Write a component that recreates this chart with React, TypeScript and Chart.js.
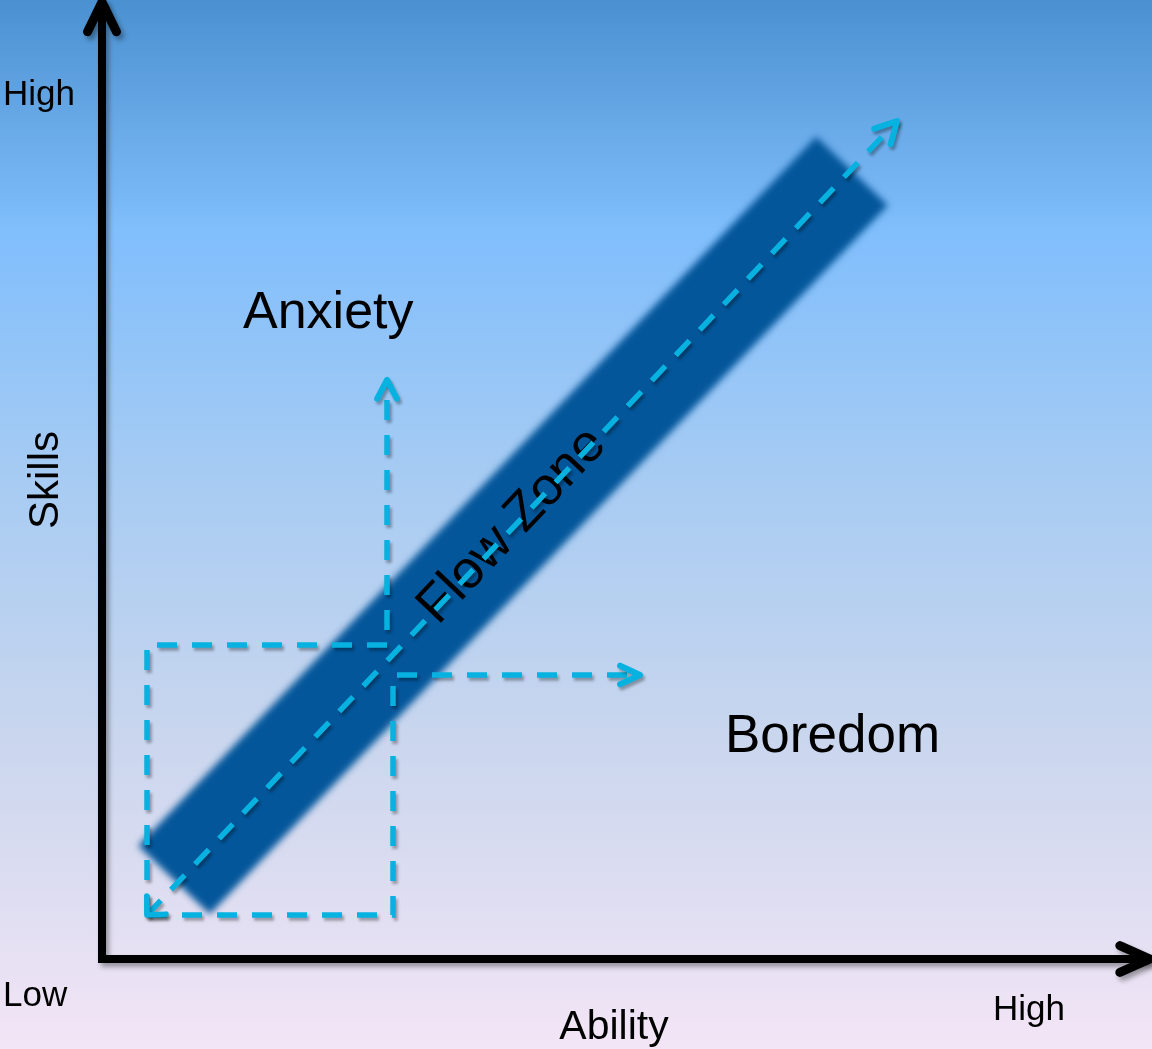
import React, { useEffect, useRef } from "react";
import { Chart, registerables } from "chart.js";

Chart.register(...registerables);

// ---- Diagram data (units: Ability on x, Skills on y, 0 = axis origin) ----
const flowBandX = [7.2, 75.0];
const flowBandY = [7.9, 78.8];
const diagonalX = [4.5, 79.5];
const diagonalY = [4.4, 83.8];
const anxietyPathX = [4.5, 4.5, 28.5, 28.5];
const anxietyPathY = [4.4, 31.4, 31.4, 57.9];
const boredomPathX = [4.5, 29.1, 29.1, 53.8];
const boredomPathY = [4.4, 4.4, 28.4, 28.4];
const axisLineX = [0, 0, 104.8];
const axisLineY = [95.7, 0, 0];

const labelTexts = ["High", "Low", "High", "Ability", "Skills", "Anxiety", "Boredom", "Flow Zone"];

// ---- Layout / styles (not data) ----
const labelLayout = [
  { x: -9.9, y: 85.4, size: 35, align: "left", rot: 0, base: "alphabetic" },
  { x: -9.9, y: -4.7, size: 35, align: "left", rot: 0, base: "alphabetic" },
  { x: 89.1, y: -6.1, size: 35, align: "left", rot: 0, base: "alphabetic" },
  { x: 51.2, y: -8.0, size: 41, align: "center", rot: 0, base: "alphabetic" },
  { x: -4.4, y: 47.9, size: 42, align: "center", rot: -90, base: "alphabetic" },
  { x: 14.1, y: 63.1, size: 52, align: "left", rot: 0, base: "alphabetic" },
  { x: 62.3, y: 20.7, size: 53, align: "left", rot: 0, base: "alphabetic" },
  { x: 42.1, y: 42.3, size: 53, align: "center", rot: -46.6, base: "alphabetic" },
];

const FONT = '"Liberation Sans", Arial, Helvetica, sans-serif';
const DASH_COLOR = "#08B2E0";
const BAND_COLOR = "#03569A";

function pts(xs: number[], ys: number[]) {
  return xs.map((x, i) => ({ x, y: ys[i] }));
}

// chevron arrowhead at the end of a path (isotropic units: 10px per unit on both axes)
function chevron(xs: number[], ys: number[], atEnd: boolean, len: number, angleDeg: number) {
  const n = xs.length;
  const tx = atEnd ? xs[n - 1] : xs[0];
  const ty = atEnd ? ys[n - 1] : ys[0];
  const px = atEnd ? xs[n - 2] : xs[1];
  const py = atEnd ? ys[n - 2] : ys[1];
  const dx = px - tx;
  const dy = py - ty;
  const d = Math.hypot(dx, dy);
  const ux = dx / d;
  const uy = dy / d;
  const a = (angleDeg * Math.PI) / 180;
  const rot = (s: number) => ({
    x: tx + len * (ux * Math.cos(s * a) - uy * Math.sin(s * a)),
    y: ty + len * (ux * Math.sin(s * a) + uy * Math.cos(s * a)),
  });
  return [rot(1), { x: tx, y: ty }, rot(-1)];
}

const fxPlugin = {
  id: "fx",
  beforeDraw(chart: any) {
    const { ctx, width, height } = chart;
    const g = ctx.createLinearGradient(0, 0, 0, height);
    g.addColorStop(0, "#4A91D1");
    g.addColorStop(0.06, "#5A9DDC");
    g.addColorStop(0.22, "#80BEFC");
    g.addColorStop(0.45, "#A6CBF3");
    g.addColorStop(0.7, "#C9D6EE");
    g.addColorStop(0.88, "#E2DFF2");
    g.addColorStop(1, "#F3E5F6");
    ctx.save();
    ctx.fillStyle = g;
    ctx.fillRect(0, 0, width, height);
    ctx.restore();
  },
  beforeDatasetDraw(chart: any, args: any) {
    const ds = chart.data.datasets[args.index];
    const ctx = chart.ctx;
    ctx.save();
    if (ds.fxBlur) ctx.filter = `blur(${ds.fxBlur}px)`;
    if (ds.fxShadow) {
      ctx.shadowColor = ds.fxShadow.color;
      ctx.shadowBlur = ds.fxShadow.blur;
      ctx.shadowOffsetX = ds.fxShadow.dx;
      ctx.shadowOffsetY = ds.fxShadow.dy;
    }
  },
  afterDatasetDraw(chart: any, args: any) {
    const ctx = chart.ctx;
    ctx.restore();
    const ds = chart.data.datasets[args.index];
    if (!ds.drawLabelsAfter) return;
    const xs = chart.scales.x;
    const ys = chart.scales.y;
    labelTexts.forEach((t, i) => {
      const L = labelLayout[i];
      ctx.save();
      ctx.translate(xs.getPixelForValue(L.x), ys.getPixelForValue(L.y));
      ctx.rotate((L.rot * Math.PI) / 180);
      ctx.font = `${L.size}px ${FONT}`;
      ctx.fillStyle = "#000000";
      ctx.textAlign = L.align;
      ctx.textBaseline = L.base;
      ctx.fillText(t, 0, 0);
      ctx.restore();
    });
  },
};

export default function App() {
  const ref = useRef<HTMLCanvasElement | null>(null);

  useEffect(() => {
    if (!ref.current) return;
    const dashShadow = { color: "rgba(0,0,0,0.32)", blur: 3, dx: 2, dy: 3 };
    const axisShadow = { color: "rgba(0,0,0,0.35)", blur: 5, dx: 3, dy: 4 };
    const line = (data: any[], extra: any) => ({
      data,
      showLine: true,
      pointRadius: 0,
      pointHoverRadius: 0,
      fill: false,
      tension: 0,
      clip: false,
      ...extra,
    });
    const dashed = (data: any[]) =>
      line(data, {
        borderColor: DASH_COLOR,
        borderWidth: 5.5,
        borderDash: [20, 15],
        borderCapStyle: "butt",
        borderJoinStyle: "miter",
        fxShadow: dashShadow,
      });
    const head = (data: any[], color: string, w: number, shadow: any) =>
      line(data, {
        borderColor: color,
        borderWidth: w,
        borderCapStyle: "round",
        borderJoinStyle: "round",
        fxShadow: shadow,
      });

    const datasets: any[] = [
      // top-most first
      head(chevron(axisLineX, axisLineY, false, 3.3, 26), "#000", 9, axisShadow),
      head(chevron(axisLineX, axisLineY, true, 3.3, 24), "#000", 9, axisShadow),
      line(pts(axisLineX, axisLineY), {
        borderColor: "#000",
        borderWidth: 8,
        borderCapStyle: "butt",
        borderJoinStyle: "miter",
        fxShadow: axisShadow,
      }),
      head(chevron(diagonalX, diagonalY, true, 2.4, 28), DASH_COLOR, 6, dashShadow),
      head(chevron(diagonalX, diagonalY, false, 1.9, 44), DASH_COLOR, 5.5, dashShadow),
      head(chevron(anxietyPathX, anxietyPathY, true, 2.1, 28), DASH_COLOR, 6, dashShadow),
      head(chevron(boredomPathX, boredomPathY, true, 2.2, 25), DASH_COLOR, 6, dashShadow),
      dashed(pts(diagonalX, diagonalY)),
      dashed(pts(anxietyPathX, anxietyPathY)),
      dashed(pts(boredomPathX, boredomPathY)),
      line(pts(flowBandX, flowBandY), {
        borderColor: BAND_COLOR,
        borderWidth: 99,
        borderCapStyle: "butt",
        fxBlur: 3.5,
        drawLabelsAfter: true,
      }),
    ];

    const chart = new Chart(ref.current, {
      type: "scatter",
      data: { datasets },
      options: {
        animation: false,
        responsive: true,
        maintainAspectRatio: false,
        events: [],
        layout: { padding: 0 },
        plugins: { legend: { display: false }, tooltip: { enabled: false } },
        scales: {
          x: { type: "linear", min: -10.2, max: 105, display: false },
          y: { type: "linear", min: -9, max: 95.9, display: false },
        },
      } as any,
      plugins: [fxPlugin as any],
    });
    return () => chart.destroy();
  }, []);

  return (
    <div style={{ position: "absolute", left: 0, top: 0, width: 1152, height: 1049 }}>
      <canvas ref={ref} style={{ display: "block" }} />
    </div>
  );
}
